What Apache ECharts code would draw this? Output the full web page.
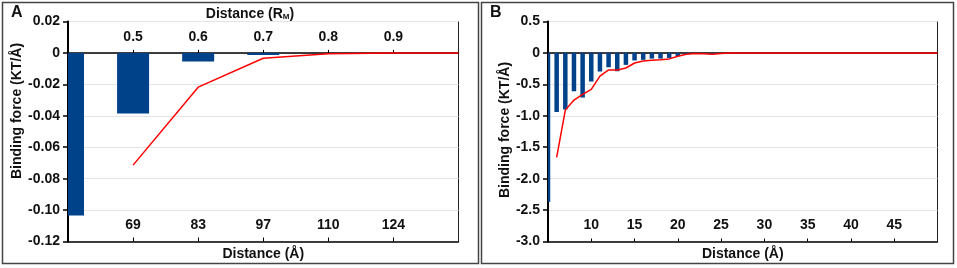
<!DOCTYPE html>
<html>
<head>
<meta charset="utf-8">
<script src="https://cdn.jsdelivr.net/npm/echarts@6/dist/echarts.min.js"></script>
<style>
html, body { margin: 0; padding: 0; background: #fff; }
#chart { width: 957px; height: 268px; }
</style>
</head>
<body>
<div id="chart"></div>
<script>
// panel A: distance in R_M (top axis) and Å (bottom axis)
var distA = [0.4, 0.5, 0.6, 0.7, 0.8, 0.9];
var barA = [-0.1035, -0.0385, -0.0055, -0.0013, -0.0002, -0.0001];
var lineDistA = [0.5, 0.6, 0.7, 0.8, 0.9, 1.0];
var lineA = [-0.0714, -0.0218, -0.0034, -0.0006, 0, 0];
var topTicksA = ['0.5', '0.6', '0.7', '0.8', '0.9'];
var bottomTicksA = ['69', '83', '97', '110', '124'];
var yTicksA = ['0.02', '0', '-0.02', '-0.04', '-0.06', '-0.08', '-0.10', '-0.12'];

// panel B: distance in Å
var distB = [5, 6, 7, 8, 9, 10, 11, 12, 13, 14, 15, 16, 17, 18, 19, 20, 21, 22, 23, 24, 25,
    26, 27, 28, 29, 30, 31, 32, 33, 34, 35, 36, 37, 38, 39, 40, 41, 42, 43, 44, 45, 46, 47, 48, 49];
var barB = [-2.37, -0.94, -0.90, -0.61, -0.71, -0.455, -0.296, -0.228, -0.291, -0.19, -0.12, -0.11,
    -0.09, -0.09, -0.08, -0.05, -0.02, -0.01, -0.01, -0.015, -0.005,
    0, 0, 0, 0, 0, 0, 0, 0, 0, 0, 0, 0, 0, 0, 0, 0, 0, 0, 0, 0, 0, 0, 0, 0];
var lineDistB = [6, 7, 8, 9, 10, 11, 12, 13, 14, 15, 16, 17, 18, 19, 20, 21, 22, 23, 24, 25, 26, 30, 35, 40, 45, 50];
var lineB = [-1.66, -0.91, -0.75, -0.66, -0.58, -0.37, -0.27, -0.27, -0.24, -0.16, -0.127, -0.116,
    -0.11, -0.095, -0.053, -0.02, -0.01, -0.015, -0.02, -0.008, 0, 0, 0, 0, 0, 0];
var yTicksB = ['0.5', '0', '-0.5', '-1.0', '-1.5', '-2.0', '-2.5', '-3.0'];

function pairs(xs, ys) {
    var res = [];
    for (var i = 0; i < xs.length; i++) {
        res.push([xs[i], ys[i]]);
    }
    return res;
}

var font = 'Liberation Sans';
var barColor = '#00428a';
var lineColor = '#ff0000';
var lbl = {fontFamily: font, fontWeight: 'bold', fontSize: 14, color: '#111'};
var zeroOffset = -31.4; // moves the top axis line down onto y = 0

// bars on a value axis, clipped to the plot area (the edge bars are cut in half)
function clippedBars(width) {
    return function(params, api) {
        var p0 = api.coord([api.value(0), 0]);
        var p1 = api.coord([api.value(0), api.value(1)]);
        var rect = echarts.graphic.clipRectByRect({
            x: p0[0] - width / 2,
            y: Math.min(p0[1], p1[1]),
            width: width,
            height: Math.abs(p1[1] - p0[1])
        }, {
            x: params.coordSys.x,
            y: params.coordSys.y,
            width: params.coordSys.width,
            height: params.coordSys.height
        });
        if (!rect) return null;
        return {type: 'rect', shape: rect, style: {fill: barColor}};
    };
}

function yAxisOf(idx, min, max, step, ticks) {
    return {
        type: 'value',
        gridIndex: idx,
        min: min,
        max: max,
        interval: step,
        axisLine: {show: true, onZero: false, lineStyle: {color: '#000', width: 2}},
        axisTick: {show: true, length: 5, lineStyle: {color: '#000', width: 1.5}},
        axisLabel: Object.assign({
            margin: 8,
            formatter: function(v) {
                var i = Math.round((max - v) / step);
                return ticks[i];
            }
        }, lbl),
        splitLine: {show: true, lineStyle: {color: '#e4e4e4', width: 1}}
    };
}

var chart = echarts.init(document.getElementById('chart'));
var option = {
    animation: false,
    backgroundColor: '#fff',
    grid: [
        {left: 68, right: 498.5, top: 21.5, bottom: 26.5, show: true, borderColor: '#222', borderWidth: 1},
        {left: 548, right: 19.5, top: 21.5, bottom: 26.5, show: true, borderColor: '#222', borderWidth: 1}
    ],
    title: {
        text: '{a|Distance (R}{s|M}{a|)}',
        left: 250,
        top: 7,
        textAlign: 'center',
        padding: 0,
        textStyle: {
            rich: {
                a: {fontFamily: font, fontWeight: 'bold', fontSize: 14, color: '#111'},
                s: {fontFamily: font, fontWeight: 'bold', fontSize: 8, color: '#111', padding: [5, 0, 0, 0]}
            }
        }
    },
    xAxis: [
        {
            type: 'value', gridIndex: 0, position: 'bottom',
            min: 0.4, max: 1.0, interval: 0.1,
            name: 'Distance (Å)', nameLocation: 'middle', nameGap: 4,
            nameTextStyle: lbl,
            axisLine: {show: true, onZero: false, lineStyle: {color: '#000', width: 1.5}},
            axisTick: {show: true, inside: true, length: 4, lineStyle: {color: '#000'}},
            axisLabel: Object.assign({
                inside: true, margin: 9, showMinLabel: false, showMaxLabel: false,
                formatter: function(v) {
                    var i = Math.round((v - 0.4) * 10) - 1;
                    return bottomTicksA[i] || '';
                }
            }, lbl),
            splitLine: {show: false}
        },
        {
            type: 'value', gridIndex: 0, position: 'top', offset: zeroOffset,
            min: 0.4, max: 1.0, interval: 0.1,
            axisLine: {show: true, onZero: false, lineStyle: {color: '#000', width: 1.5}},
            axisTick: {show: true, length: 3, lineStyle: {color: '#000'}},
            axisLabel: Object.assign({
                margin: 9, showMinLabel: false, showMaxLabel: false,
                formatter: function(v) {
                    var i = Math.round((v - 0.4) * 10) - 1;
                    return topTicksA[i] || '';
                }
            }, lbl),
            splitLine: {show: false}
        },
        {
            type: 'value', gridIndex: 1, position: 'bottom',
            min: 5, max: 50, interval: 5,
            name: 'Distance (Å)', nameLocation: 'middle', nameGap: 4,
            nameTextStyle: lbl,
            axisLine: {show: true, onZero: false, lineStyle: {color: '#000', width: 1.5}},
            axisTick: {show: true, inside: true, length: 3, lineStyle: {color: '#000'}},
            axisLabel: Object.assign({inside: true, margin: 9, showMinLabel: false, showMaxLabel: false}, lbl),
            splitLine: {show: false}
        },
        {
            type: 'value', gridIndex: 1, position: 'top', offset: zeroOffset,
            min: 5, max: 50, interval: 5,
            axisLine: {show: true, onZero: false, lineStyle: {color: '#000', width: 1.5}},
            axisTick: {show: false},
            axisLabel: {show: false},
            splitLine: {show: false}
        }
    ],
    yAxis: [
        yAxisOf(0, -0.12, 0.02, 0.02, yTicksA),
        yAxisOf(1, -3.0, 0.5, 0.5, yTicksB)
    ],
    graphic: [
        {type: 'rect', shape: {x: 2.5, y: 2.5, width: 476, height: 261}, style: {fill: 'none', stroke: '#444', lineWidth: 1.5}, silent: true},
        {type: 'rect', shape: {x: 481.5, y: 2.5, width: 472, height: 261}, style: {fill: 'none', stroke: '#444', lineWidth: 1.5}, silent: true},
        {type: 'text', left: 11, top: 5, style: {text: 'A', font: 'bold 16px "Liberation Sans"', fill: '#111'}},
        {type: 'text', left: 490, top: 5, style: {text: 'B', font: 'bold 16px "Liberation Sans"', fill: '#111'}},
        {type: 'text', x: 17, y: 111, rotation: Math.PI / 2,
            style: {text: 'Binding force (KT/Å)', font: 'bold 14px "Liberation Sans"', fill: '#111', align: 'center', verticalAlign: 'middle'}},
        {type: 'text', x: 505, y: 130, rotation: Math.PI / 2,
            style: {text: 'Binding force (KT/Å)', font: 'bold 14px "Liberation Sans"', fill: '#111', align: 'center', verticalAlign: 'middle'}}
    ],
    series: [
        {
            name: 'A bars', type: 'custom', xAxisIndex: 0, yAxisIndex: 0,
            renderItem: clippedBars(32),
            encode: {x: 0, y: 1},
            data: pairs(distA, barA)
        },
        {
            name: 'A line', type: 'line', xAxisIndex: 0, yAxisIndex: 0,
            symbol: 'none', lineStyle: {color: lineColor, width: 1.5}, z: 5,
            data: pairs(lineDistA, lineA)
        },
        {
            name: 'B bars', type: 'custom', xAxisIndex: 2, yAxisIndex: 1,
            renderItem: clippedBars(4.5),
            encode: {x: 0, y: 1},
            data: pairs(distB, barB)
        },
        {
            name: 'B line', type: 'line', xAxisIndex: 2, yAxisIndex: 1,
            symbol: 'none', lineStyle: {color: lineColor, width: 1.5}, z: 5,
            data: pairs(lineDistB, lineB)
        }
    ]
};
chart.setOption(option);
</script>
</body>
</html>
